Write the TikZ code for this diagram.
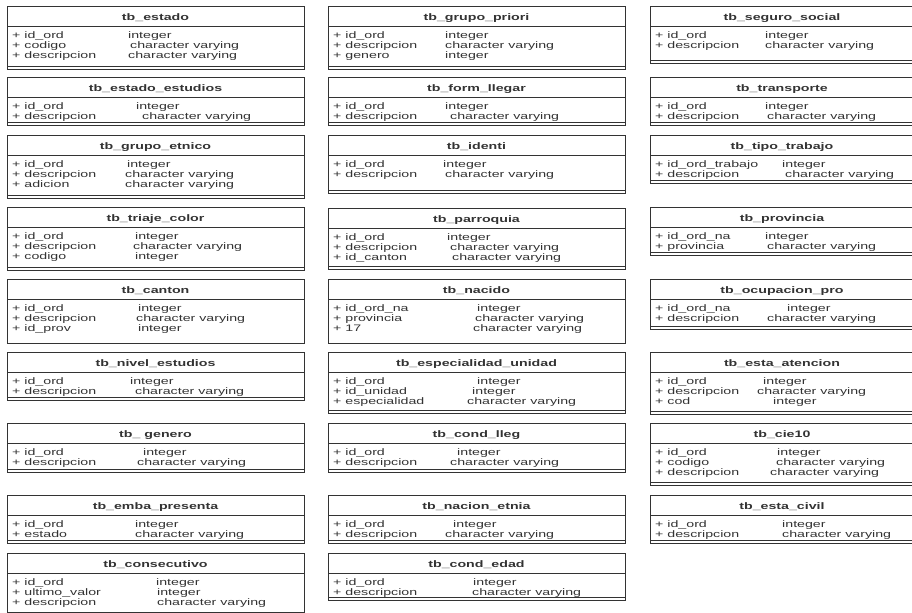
\documentclass[tikz,border=0pt]{standalone}
\usepackage{fontspec}
\setmainfont{Liberation Sans}[FakeStretch=1.5]
\usetikzlibrary{calc}

\begin{document}
\begin{tikzpicture}[
  x=1bp,y=-1bp,
  tblbox/.style  ={draw=black!80,line width=0.8bp},
  tbltitle/.style={anchor=base,inner sep=0pt,text=black!80,font=\fontsize{9.5}{10}\selectfont\bfseries},
  tblrow/.style  ={anchor=base west,inner sep=0pt,text=black!80,font=\fontsize{9.5}{10}\selectfont}]
\useasboundingbox (0,0) rectangle (912,613);
\clip (0,0) rectangle (912,613);
% --- one box per table: left/right/top/bottom, ops line flag, then name/type-x/type rows ---
\foreach \nm/\lx/\rx/\tp/\bt/\ops/\rows [count=\i] in {
  % column 1
  tb\_estado/7/304/6/69/1/{id\_ord/128/integer, codigo/130/character varying, descripcion/128/character varying},
  tb\_estado\_estudios/7/304/77/125/1/{id\_ord/136/integer, descripcion/142/character varying},
  tb\_grupo\_etnico/7/304/135/198/1/{id\_ord/127/integer, descripcion/125/character varying, adicion/125/character varying},
  tb\_triaje\_color/7/304/207/270/1/{id\_ord/135/integer, descripcion/133/character varying, codigo/135/integer},
  tb\_canton/7/304/279/343/0/{id\_ord/138/integer, descripcion/136/character varying, id\_prov/138/integer},
  tb\_nivel\_estudios/7/304/352/400/1/{id\_ord/130/integer, descripcion/135/character varying},
  tb\_ genero/7/304/423/472/1/{id\_ord/143/integer, descripcion/137/character varying},
  tb\_emba\_presenta/7/304/495/543/1/{id\_ord/135/integer, estado/135/character varying},
  tb\_consecutivo/7/304/553/612/0/{id\_ord/156/integer, ultimo\_valor/157/integer, descripcion/157/character varying},
  % column 2
  tb\_grupo\_priori/328/625/6/69/1/{id\_ord/445/integer, descripcion/445/character varying, genero/445/integer},
  tb\_form\_llegar/328/625/77/125/1/{id\_ord/445/integer, descripcion/450/character varying},
  tb\_identi/328/625/135/193/1/{id\_ord/443/integer, descripcion/445/character varying},
  tb\_parroquia/328/625/208/269/1/{id\_ord/447/integer, descripcion/450/character varying, id\_canton/452/character varying},
  tb\_nacido/328/625/279/343/0/{id\_ord\_na/477/integer, provincia/475/character varying, 17/473/character varying},
  tb\_especialidad\_unidad/328/625/352/413/1/{id\_ord/477/integer, id\_unidad/472/integer, especialidad/467/character varying},
  tb\_cond\_lleg/328/625/423/472/1/{id\_ord/457/integer, descripcion/450/character varying},
  tb\_nacion\_etnia/328/625/495/543/1/{id\_ord/453/integer, descripcion/445/character varying},
  tb\_cond\_edad/328/625/553/600/1/{id\_ord/473/integer, descripcion/472/character varying},
  % column 3 (runs past the right edge)
  tb\_seguro\_social/650/914/6/63/1/{id\_ord/765/integer, descripcion/765/character varying},
  tb\_transporte/650/914/77/125/1/{id\_ord/765/integer, descripcion/767/character varying},
  tb\_tipo\_trabajo/650/914/135/183/1/{id\_ord\_trabajo/782/integer, descripcion/785/character varying},
  tb\_provincia/650/914/207/255/1/{id\_ord\_na/765/integer, provincia/767/character varying},
  tb\_ocupacion\_pro/650/914/279/329/1/{id\_ord\_na/787/integer, descripcion/767/character varying},
  tb\_esta\_atencion/650/914/352/414/1/{id\_ord/763/integer, descripcion/757/character varying, cod/773/integer},
  tb\_cie10/650/914/423/485/1/{id\_ord/777/integer, codigo/776/character varying, descripcion/770/character varying},
  tb\_esta\_civil/650/914/495/543/1/{id\_ord/782/integer, descripcion/782/character varying}}
{
  % frame, title rule and empty operations strip
  \draw[tblbox] (\lx,\tp) rectangle (\rx,\bt);
  \draw[tblbox] (\lx,\tp+20) -- (\rx,\tp+20);
  \ifnum\ops=1
    \draw[tblbox] (\lx,\bt-3) -- (\rx,\bt-3);
  \fi
  \node[tbltitle] (t\i) at ({(\lx+\rx)/2},\tp+14.5) {\nm};
  % attributes
  \foreach \fld/\tx/\typ [count=\rr] in \rows
  {
    \node[tblrow] (a\i-\rr) at (\lx+5,\tp+22.5+10*\rr) {+ \fld};
    \node[tblrow] (y\i-\rr) at (\tx,\tp+22.5+10*\rr) {\typ};
  }
}
\end{tikzpicture}
\end{document}
